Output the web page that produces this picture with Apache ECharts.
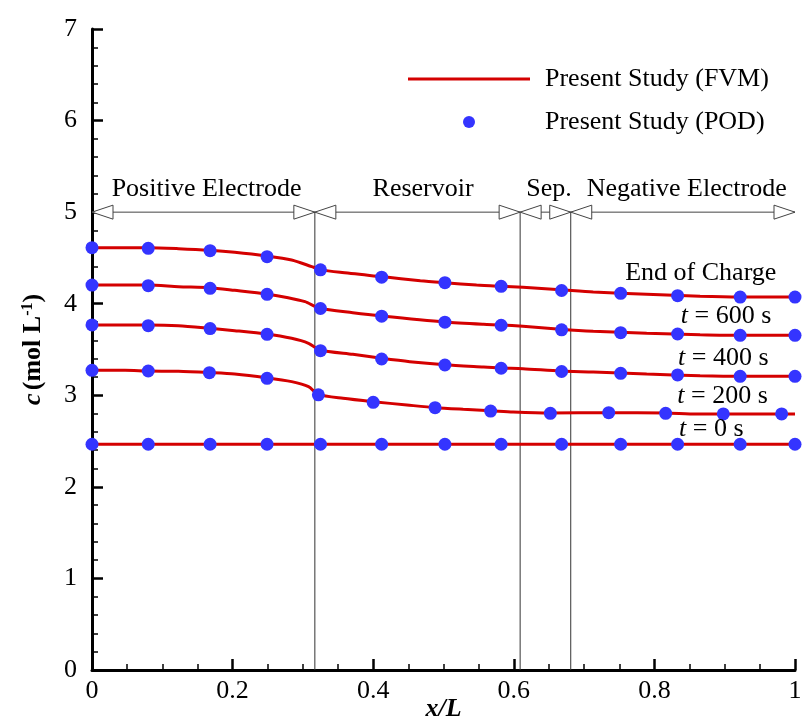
<!DOCTYPE html>
<html>
<head>
<meta charset="utf-8">
<script src="https://cdn.jsdelivr.net/npm/echarts@6/dist/echarts.min.js"></script>
<style>
  html, body { margin: 0; padding: 0; background: #fff; }
  #chart { width: 808px; height: 722px; }
</style>
</head>
<body>
<div id="chart"></div>
<script>
// Electrolyte concentration profiles along the cell at several times during charge.
const SERIF = "'Liberation Serif', 'Times New Roman', serif";

const curveNames = ['End of Charge', 't = 600 s', 't = 400 s', 't = 200 s', 't = 0 s'];

// FVM solution (continuous profiles)
const fvmX = [
  [0, 0.08, 0.123, 0.168, 0.203, 0.248, 0.284, 0.3125, 0.324, 0.353, 0.412, 0.467, 0.502, 0.547, 0.582, 0.613, 0.666, 0.713, 0.789, 0.865, 0.922, 1.0],
  [0, 0.08, 0.123, 0.168, 0.203, 0.248, 0.279, 0.303, 0.324, 0.371, 0.412, 0.502, 0.557, 0.582, 0.613, 0.666, 0.713, 0.789, 0.865, 0.922, 1.0],
  [0, 0.08, 0.123, 0.168, 0.203, 0.248, 0.284, 0.308, 0.324, 0.371, 0.412, 0.452, 0.502, 0.557, 0.582, 0.613, 0.666, 0.713, 0.789, 0.865, 0.922, 1.0],
  [0, 0.047, 0.08, 0.123, 0.168, 0.203, 0.248, 0.284, 0.308, 0.322, 0.357, 0.400, 0.448, 0.488, 0.528, 0.567, 0.599, 0.651, 0.735, 0.816, 0.860, 1.0],
  [0, 0.5, 1.0]
];
const fvmY = [
  [4.612, 4.612, 4.601, 4.583, 4.561, 4.521, 4.477, 4.405, 4.375, 4.343, 4.296, 4.252, 4.230, 4.204, 4.190, 4.179, 4.153, 4.128, 4.103, 4.081, 4.073, 4.073],
  [4.204, 4.204, 4.186, 4.175, 4.146, 4.106, 4.066, 4.022, 3.950, 3.902, 3.866, 3.800, 3.775, 3.768, 3.753, 3.721, 3.699, 3.677, 3.662, 3.655, 3.655],
  [3.768, 3.768, 3.760, 3.731, 3.706, 3.669, 3.622, 3.568, 3.495, 3.447, 3.404, 3.367, 3.334, 3.309, 3.298, 3.291, 3.265, 3.254, 3.232, 3.214, 3.207, 3.207],
  [3.273, 3.273, 3.265, 3.262, 3.247, 3.232, 3.192, 3.149, 3.094, 3.010, 2.967, 2.930, 2.894, 2.865, 2.847, 2.832, 2.818, 2.807, 2.810, 2.807, 2.796, 2.796],
  [2.465, 2.465, 2.465]
];

// POD reduced-order solution (discrete points)
const podGridX = [0, 0.08, 0.168, 0.249, 0.325, 0.412, 0.502, 0.582, 0.668, 0.752, 0.833, 0.922, 1.0];
const podX = [
  podGridX,
  podGridX,
  podGridX,
  [0, 0.08, 0.167, 0.249, 0.322, 0.400, 0.488, 0.567, 0.652, 0.735, 0.816, 0.898, 0.981],
  podGridX
];
const podY = [
  [4.612, 4.605, 4.579, 4.514, 4.370, 4.290, 4.230, 4.190, 4.144, 4.113, 4.088, 4.073, 4.073],
  [4.204, 4.197, 4.168, 4.102, 3.948, 3.864, 3.798, 3.765, 3.715, 3.684, 3.669, 3.655, 3.655],
  [3.768, 3.760, 3.728, 3.666, 3.487, 3.396, 3.331, 3.295, 3.260, 3.240, 3.222, 3.207, 3.207],
  [3.273, 3.265, 3.247, 3.185, 3.005, 2.923, 2.865, 2.828, 2.803, 2.810, 2.803, 2.796, 2.796],
  [2.465, 2.465, 2.465, 2.465, 2.465, 2.465, 2.465, 2.465, 2.465, 2.465, 2.465, 2.465, 2.465]
];

// Curve annotations
const curveLabels = ['End of Charge', '{i|t} = 600 s', '{i|t} = 400 s', '{i|t} = 200 s', '{i|t} = 0 s'];
const curveLabelX = [0.866, 0.902, 0.898, 0.897, 0.881];
const curveLabelY = [4.33, 3.86, 3.40, 2.99, 2.63];

// Cell sections
const sectionEdges = [0, 0.317, 0.609, 0.681, 1.0];
const sectionNames = ['Positive Electrode', 'Reservoir', 'Sep.', 'Negative Electrode'];
const sectionLabelX = [0.163, 0.471, 0.650, 0.846];
const sectionLevel = 5;

// Axis ticks
const xTicks = { min: 0, max: 1, interval: 0.2 };
const yTicks = { min: 0, max: 7, interval: 1 };

const FVM_NAME = 'Present Study (FVM)';
const POD_NAME = 'Present Study (POD)';
const RED = '#d40000';
const BLUE = '#3434ff';

const series = [];

// section arrows, dividers and names
series.push({
  type: 'custom',
  silent: true,
  z: 1,
  clip: false,
  data: sectionNames.map((n, i) => [sectionEdges[i], sectionEdges[i + 1]]),
  renderItem: function (params, api) {
    const i = params.dataIndex;
    const a = api.coord([api.value(0), sectionLevel]);
    const b = api.coord([api.value(1), sectionLevel]);
    const base = api.coord([api.value(1), 0]);
    const head = 21, half = 7;
    const stroke = '#444';
    const children = [
      { type: 'line', shape: { x1: a[0], y1: a[1], x2: b[0], y2: b[1] },
        style: { stroke: stroke, lineWidth: 1 } },
      { type: 'polygon', shape: { points: [[a[0], a[1]], [a[0] + head, a[1] - half], [a[0] + head, a[1] + half]] },
        style: { fill: '#fff', stroke: stroke, lineWidth: 1 } },
      { type: 'polygon', shape: { points: [[b[0], b[1]], [b[0] - head, b[1] - half], [b[0] - head, b[1] + half]] },
        style: { fill: '#fff', stroke: stroke, lineWidth: 1 } }
    ];
    if (api.value(1) < 1) {
      children.push({ type: 'line', shape: { x1: b[0], y1: b[1], x2: base[0], y2: base[1] },
        style: { stroke: '#333', lineWidth: 1 } });
    }
    const lp = api.coord([sectionLabelX[i], sectionLevel]);
    children.push({ type: 'text', style: {
      text: sectionNames[i], x: lp[0], y: lp[1] - 23,
      fontFamily: SERIF, fontSize: 26, fill: '#000', align: 'center', verticalAlign: 'middle'
    } });
    return { type: 'group', children: children };
  }
});

// curve labels
series.push({
  type: 'custom',
  silent: true,
  z: 4,
  clip: false,
  data: curveLabels.map((t, i) => [curveLabelX[i], curveLabelY[i]]),
  renderItem: function (params, api) {
    const p = api.coord([api.value(0), api.value(1)]);
    return { type: 'text', style: {
      text: curveLabels[params.dataIndex], x: p[0], y: p[1],
      fontFamily: SERIF, fontSize: 26, fill: '#000', align: 'center', verticalAlign: 'middle',
      rich: { i: { fontFamily: SERIF, fontSize: 26, fontStyle: 'italic', fill: '#000' } }
    } };
  }
});

curveNames.forEach((c, k) => {
  series.push({
    name: FVM_NAME,
    type: 'line',
    z: 2,
    symbol: 'none',
    showSymbol: false,
    smooth: 0.25,
    color: RED,
    lineStyle: { color: RED, width: 3 },
    data: fvmX[k].map((x, i) => [x, fvmY[k][i]])
  });
});
curveNames.forEach((c, k) => {
  series.push({
    name: POD_NAME,
    type: 'scatter',
    z: 3,
    clip: false,
    symbol: 'circle',
    symbolSize: 13,
    color: BLUE,
    itemStyle: { color: BLUE, opacity: 1 },
    data: podX[k].map((x, i) => [x, podY[k][i]])
  });
});

const chart = echarts.init(document.getElementById('chart'), null, { renderer: 'canvas' });
chart.setOption({
  animation: false,
  backgroundColor: '#fff',
  grid: { left: 92, right: 13, top: 29, bottom: 52, containLabel: false, outerBoundsMode: 'none' },
  legend: {
    orient: 'vertical',
    left: 403,
    top: 59,
    itemWidth: 122,
    itemHeight: 12,
    itemGap: 13,
    data: [
      { name: FVM_NAME, icon: 'path://M0,0L122,0L122,3L0,3Z' },
      { name: POD_NAME }
    ],
    textStyle: { fontFamily: SERIF, fontSize: 26, color: '#000', lineHeight: 30, padding: [0, 0, 0, 10] }
  },
  xAxis: {
    type: 'value',
    min: xTicks.min, max: xTicks.max, interval: xTicks.interval,
    name: '{v|x/L}',
    nameLocation: 'middle',
    nameGap: 26,
    nameMoveOverlap: false,
    nameTextStyle: {
      rich: { v: { fontFamily: SERIF, fontSize: 26, fontWeight: 'bold', fontStyle: 'italic', color: '#000' } }
    },
    axisLine: { show: true, onZero: false, lineStyle: { color: '#000', width: 3 } },
    axisTick: { show: true, inside: true, length: 11, lineStyle: { color: '#000', width: 2.5 } },
    minorTick: { show: true, splitNumber: 4, length: 6, lineStyle: { color: '#000', width: 1.5 } },
    splitLine: { show: false },
    axisLabel: {
      fontFamily: SERIF, fontSize: 26, color: '#000', margin: 8,
      formatter: v => (v === 0 ? '0' : v === 1 ? '1' : v.toFixed(1))
    }
  },
  yAxis: {
    type: 'value',
    min: yTicks.min, max: yTicks.max, interval: yTicks.interval,
    name: '{c|c} {b|(mol L}{s|-1}{b|)}',
    nameLocation: 'middle',
    nameGap: 46,
    nameRotate: 90,
    nameMoveOverlap: false,
    nameTextStyle: {
      rich: {
        c: { fontFamily: SERIF, fontSize: 26, fontWeight: 'bold', fontStyle: 'italic', color: '#000' },
        b: { fontFamily: SERIF, fontSize: 26, fontWeight: 'bold', color: '#000' },
        s: { fontFamily: SERIF, fontSize: 16, fontWeight: 'bold', color: '#000', verticalAlign: 'top', lineHeight: 22 }
      }
    },
    axisLine: { show: true, onZero: false, lineStyle: { color: '#000', width: 3 } },
    axisTick: { show: true, inside: true, length: 11, lineStyle: { color: '#000', width: 2.5 } },
    minorTick: { show: true, splitNumber: 5, length: 6, lineStyle: { color: '#000', width: 1.5 } },
    splitLine: { show: false },
    axisLabel: { fontFamily: SERIF, fontSize: 26, color: '#000', margin: 15 }
  },
  series: series
});
</script>
</body>
</html>
